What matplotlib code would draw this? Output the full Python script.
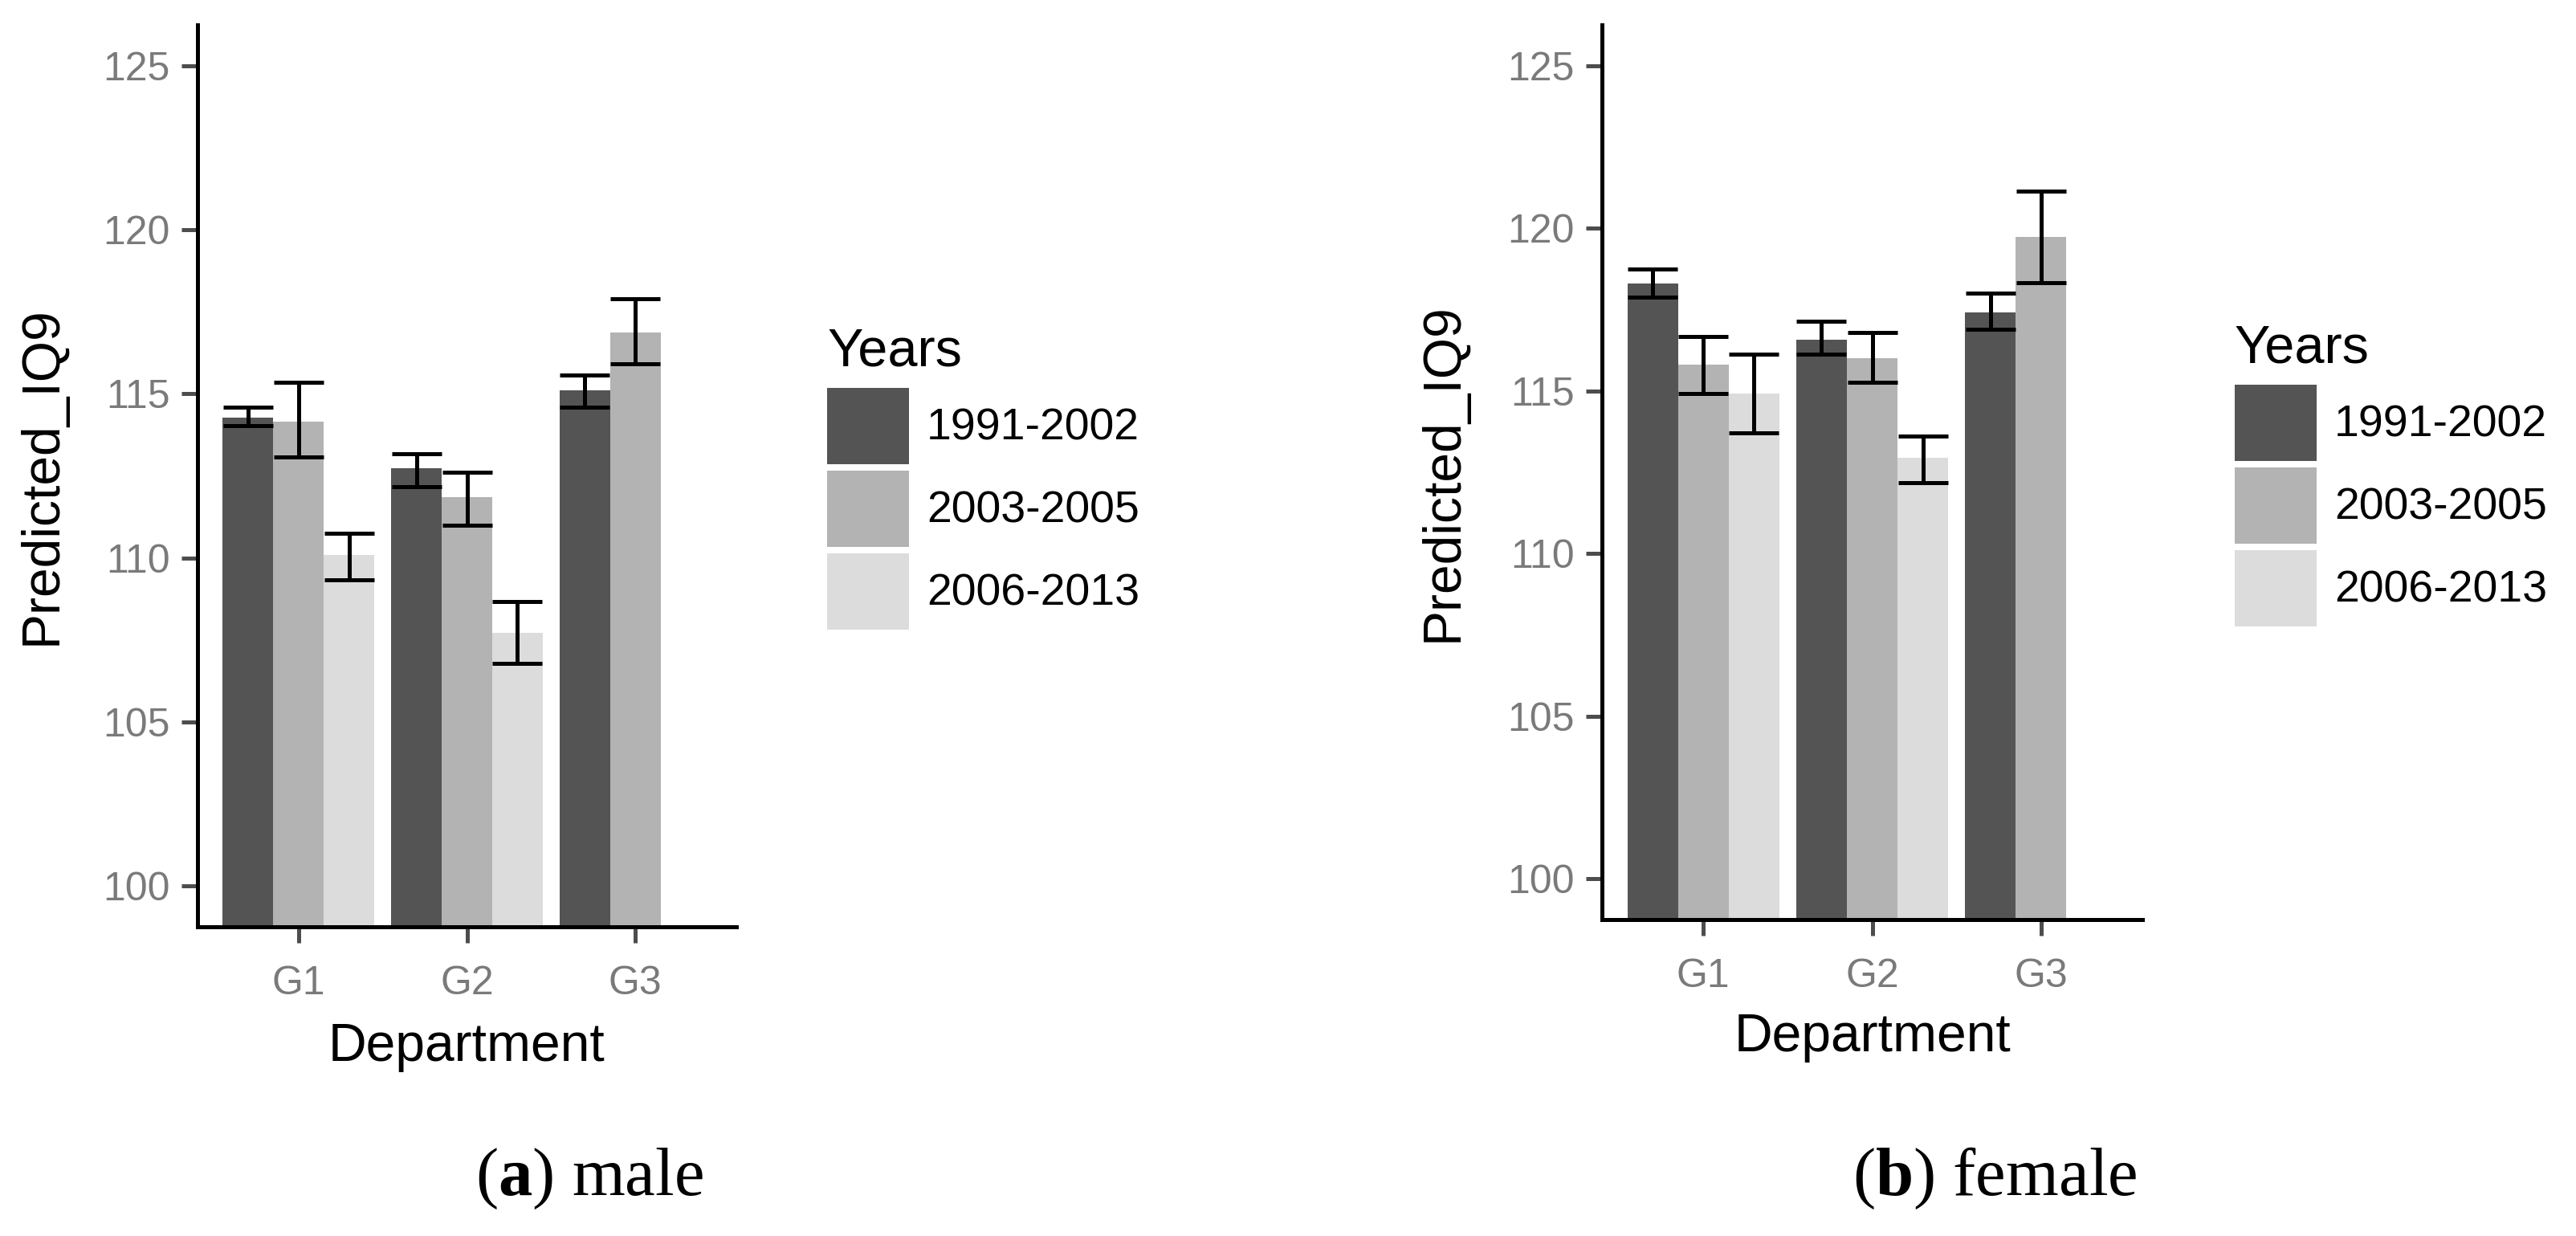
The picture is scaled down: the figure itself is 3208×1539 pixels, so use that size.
import numpy as np
import matplotlib
matplotlib.use("Agg")
import matplotlib.pyplot as plt
from matplotlib.patches import Patch

plt.rcParams['font.family'] = ['Liberation Sans', 'DejaVu Sans']
plt.rcParams['mathtext.fontset'] = 'custom'
plt.rcParams['mathtext.rm'] = 'Liberation Serif'
plt.rcParams['mathtext.bf'] = 'Liberation Serif:bold'

# ---------------- data ----------------
departments = ['G1', 'G2', 'G3']
years = ['1991-2002', '2003-2005', '2006-2013']
fill_colors = ['#545454', '#B3B3B3', '#DCDCDC']
yticks = [100, 105, 110, 115, 120, 125]

# male: rows = years, cols = departments (nan = no bar)
male_mean = [[114.28, 112.73, 115.11],
             [114.15, 111.86, 116.88],
             [110.10, 107.72, np.nan]]
male_lower = [[114.03, 112.18, 114.59],
              [113.07, 110.99, 115.91],
              [109.33, 106.77, np.nan]]
male_upper = [[114.59, 113.17, 115.57],
              [115.35, 112.62, 117.89],
              [110.76, 108.67, np.nan]]

# female: rows = years, cols = departments
female_mean = [[118.31, 116.57, 117.42],
               [115.81, 116.01, 119.73],
               [114.91, 112.95, np.nan]]
female_lower = [[117.88, 116.13, 116.90],
                [114.91, 115.26, 118.32],
                [113.70, 112.18, np.nan]]
female_upper = [[118.75, 117.13, 118.01],
                [116.66, 116.80, 121.15],
                [116.12, 113.62, np.nan]]

captions = [('a', 'male'), ('b', 'female')]

# ---------------- figure ----------------
W, H = 3208, 1539
fig = plt.figure(figsize=(W / 100, H / 100), dpi=100)


def px_rect(x0, x1, ytop, ybot):
    return [x0 / W, 1 - ybot / H, (x1 - x0) / W, (ybot - ytop) / H]


ax_l = fig.add_axes(px_rect(246, 917, 31, 1154))
ax_r = fig.add_axes(px_rect(1995, 2668, 31, 1145))

tick_col = '#7A7A7A'
bar_w = 0.3
xpos = np.arange(1, len(departments) + 1)


def draw_panel(ax, mean, lower, upper, leg_anchor, ylab_x, xlab_y):
    for i, yr in enumerate(years):
        m = np.array(mean[i], dtype=float)
        ok = ~np.isnan(m)
        xs = xpos[ok] + (i - 1) * bar_w
        ax.bar(xs, m[ok], width=bar_w, color=fill_colors[i], edgecolor='none',
               zorder=2)
    for i, yr in enumerate(years):
        m = np.array(mean[i], dtype=float)
        lo = np.array(lower[i], dtype=float)
        hi = np.array(upper[i], dtype=float)
        ok = ~np.isnan(m)
        xs = xpos[ok] + (i - 1) * bar_w
        ax.errorbar(xs, m[ok], yerr=[m[ok] - lo[ok], hi[ok] - m[ok]], fmt='none',
                    ecolor='black', elinewidth=3.6, capsize=22.5, capthick=3.6,
                    zorder=3)
    ax.set_xlim(0.4, 3.6)
    ax.set_ylim(98.75, 126.25)
    ax.set_xticks(xpos)
    ax.set_xticklabels(departments)
    ax.set_yticks(yticks)
    ax.set_yticklabels([str(t) for t in yticks])
    for s in ['top', 'right']:
        ax.spines[s].set_visible(False)
    for s in ['left', 'bottom']:
        ax.spines[s].set_linewidth(3.6)
        ax.spines[s].set_color('black')
        ax.spines[s].set_capstyle('projecting')
    ax.tick_params(axis='both', colors='#4D4D4D', length=14.4, width=3.6,
                   labelcolor=tick_col, labelsize=36)
    ax.tick_params(axis='y', pad=10.5)
    ax.tick_params(axis='x', pad=20)
    ax.set_xlabel('Department', fontsize=47.5, color='black')
    ax.set_ylabel('Predicted_IQ9', fontsize=47.5, color='black')
    ax.yaxis.set_label_coords(ylab_x, 0.5)
    ax.xaxis.set_label_coords(0.5, xlab_y)
    handles = [Patch(facecolor=c, edgecolor='none', label=y)
               for c, y in zip(fill_colors, years)]
    leg = ax.legend(handles=handles, title='Years', loc='upper left',
                    bbox_to_anchor=leg_anchor, bbox_transform=fig.transFigure,
                    frameon=False, fontsize=40, title_fontsize=48,
                    handlelength=1.835, handleheight=2.252, labelspacing=0.144,
                    handletextpad=0.40, borderpad=0, borderaxespad=0,
                    alignment='left')
    # a little more room between the legend title and the keys
    try:
        leg._legend_box.sep = leg._legend_box.sep + 3.6
    except Exception:
        pass


draw_panel(ax_l, male_mean, male_lower, male_upper,
           (1030 / W, 1 - 408 / H), -0.2414, -0.106)
draw_panel(ax_r, female_mean, female_lower, female_upper,
           (2783 / W, 1 - 404 / H), -0.2467, -0.104)

cap_x = [592, 2307]
for (letter, word), x in zip(captions, cap_x):
    fig.text(x / W, 1 - 1488 / H, r'($\mathbf{%s}$) %s' % (letter, word),
             family='Liberation Serif', fontsize=61, ha='left', va='baseline',
             color='black')

fig.savefig('out.png', dpi=100, facecolor='white')
